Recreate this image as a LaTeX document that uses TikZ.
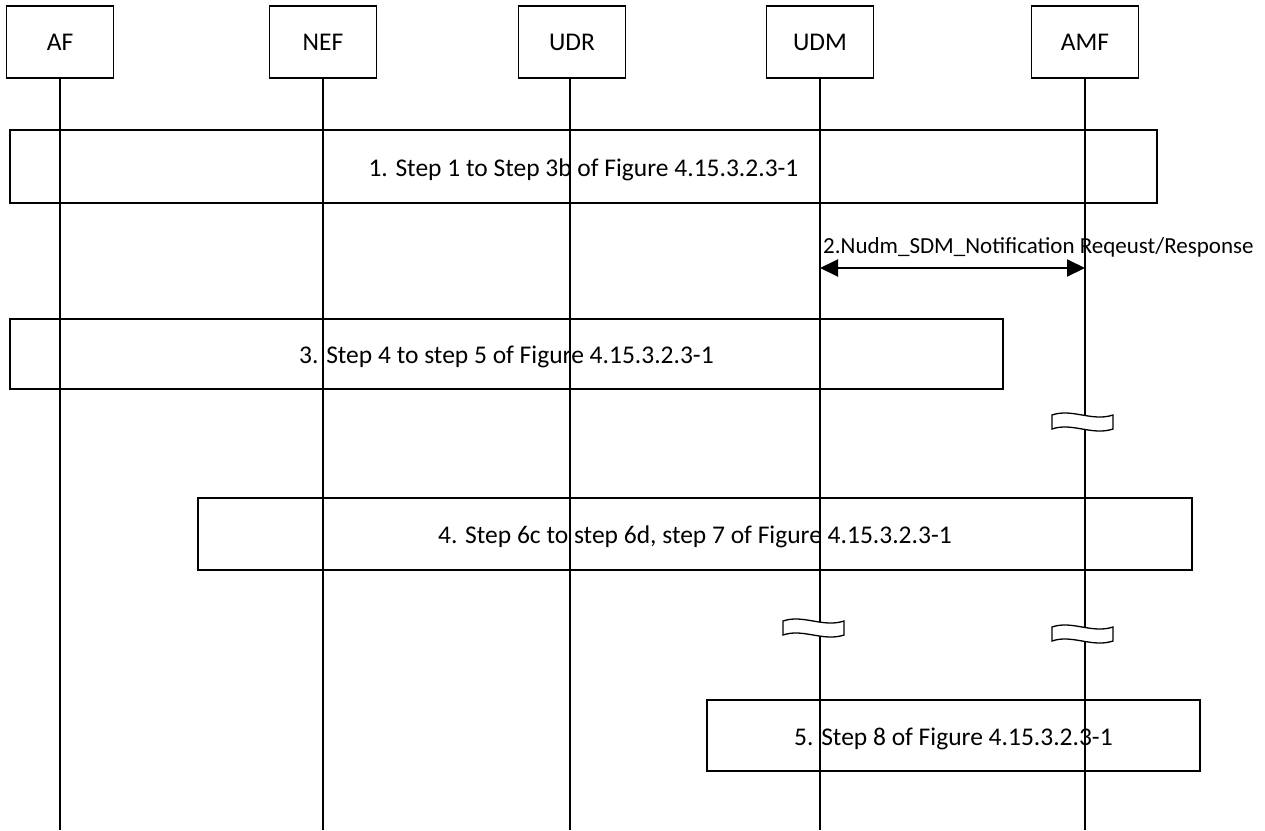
\documentclass[tikz,border=0pt]{standalone}
\usepackage{fontspec}
\setmainfont{Carlito}
\usetikzlibrary{arrows.meta}
\begin{document}
\begin{tikzpicture}[x=1pt,y=-1pt,
  ent/.style={draw,line width=1.3pt,minimum width=107pt,minimum height=72pt,inner sep=0pt,font=\fontsize{25.5}{30}\selectfont},
  stepbox/.style={draw,line width=1.3pt,inner sep=0pt,text height=22pt,text depth=3pt,font=\fontsize{25.5}{30}\selectfont},
  life/.style={line width=2pt},
  msg/.style={line width=2pt,{Triangle[length=18pt,width=17pt]}-{Triangle[length=18pt,width=17pt]}},
  brk/.style={draw,fill=white,line width=1.3pt}
]
\useasboundingbox (0,0) rectangle (1265,830);
% entities
\node[ent] (af)  at (60,42)  {AF};
\node[ent] (nef) at (323,42) {NEF};
\node[ent] (udr) at (572,42) {UDR};
\node[ent] (udm) at (820,42) {UDM};
\node[ent] (amf) at (1085,42) {AMF};
% lifeline ends
\coordinate (afE)  at (60,830);
\coordinate (nefE) at (323,830);
\coordinate (udrE) at (570,830);
\coordinate (udmE) at (820,830);
\coordinate (amfE) at (1085,830);
\draw[life] (af.south) -- (afE);
\draw[life] (nef.south) -- (nefE);
\draw[life] (udr.south -| udrE) -- (udrE);
\draw[life] (udm.south) -- (udmE);
\draw[life] (amf.south) -- (amfE);
% step boxes
\node[stepbox,minimum width=1147pt,minimum height=73pt] (s1) at (583.5,166.5) {1. Step 1 to Step 3b of Figure 4.15.3.2.3-1};
\node[stepbox,minimum width=993pt,minimum height=70pt] (s3) at (506.5,354) {3. Step 4 to step 5 of Figure 4.15.3.2.3-1};
\node[stepbox,minimum width=994pt,minimum height=72pt] (s4) at (695,534) {4. Step 6c to step 6d, step 7 of Figure 4.15.3.2.3-1};
\node[stepbox,minimum width=493pt,minimum height=71pt] (s5) at (953.5,735.5) {5. Step 8 of Figure 4.15.3.2.3-1};
% message 2
\coordinate (m2l) at (820,268);
\coordinate (m2r) at (1085,268);
\draw[msg] (m2l) -- (m2r);
\node[anchor=base west,inner sep=0pt,font=\fontsize{23}{27}\selectfont] (m2) at (823,253) {2.Nudm\_SDM\_Notification Reqeust/Response};
% breaks
\foreach \bx/\by in {1052/415, 783/621, 1052/627}{
  \path[brk] (\bx,\by) .. controls (\bx+20,\by-7) and (\bx+40,\by+7) .. (\bx+61,\by)
    -- (\bx+61,\by+14) .. controls (\bx+40,\by+21) and (\bx+20,\by+7) .. (\bx,\by+14) -- cycle;
}
\end{tikzpicture}
\end{document}
